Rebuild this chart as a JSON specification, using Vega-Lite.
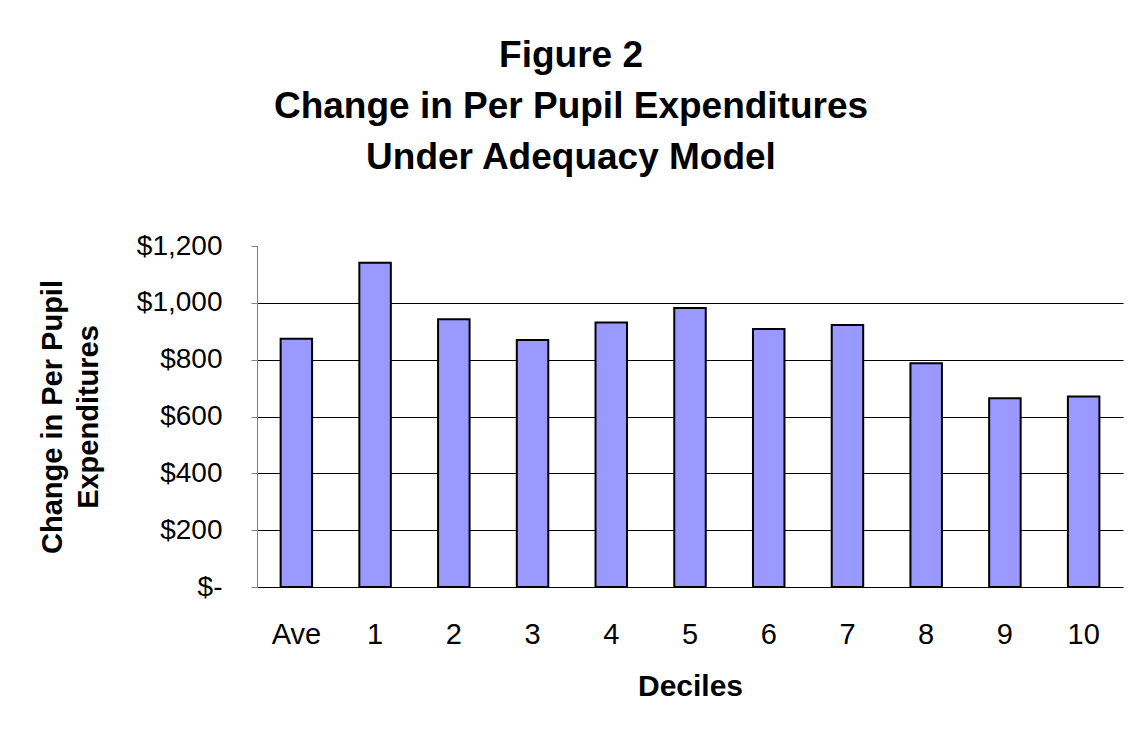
{
  "$schema": "https://vega.github.io/schema/vega-lite/v6.json",
  "width": 866,
  "height": 341,
  "autosize": {"type": "none"},
  "padding": {"left": 257, "top": 246, "right": 18, "bottom": 144},
  "background": "white",
  "title": {
    "text": ["Figure 2", "Change in Per Pupil Expenditures", "Under Adequacy Model"],
    "anchor": "middle",
    "frame": "group",
    "dx": -119,
    "font": "Liberation Sans",
    "fontSize": 37,
    "fontWeight": "bold",
    "lineHeight": 51,
    "color": "black",
    "offset": 55
  },
  "data": {
    "values": [
      {"decile": "Ave", "change": 874},
      {"decile": "1", "change": 1141},
      {"decile": "2", "change": 942},
      {"decile": "3", "change": 869},
      {"decile": "4", "change": 931},
      {"decile": "5", "change": 982},
      {"decile": "6", "change": 908},
      {"decile": "7", "change": 922},
      {"decile": "8", "change": 787},
      {"decile": "9", "change": 664},
      {"decile": "10", "change": 670}
    ]
  },
  "mark": {"type": "bar", "fill": "#9999FF", "stroke": "black", "strokeWidth": 2},
  "encoding": {
    "x": {
      "field": "decile",
      "type": "nominal",
      "sort": null,
      "scale": {"paddingInner": 0.6, "paddingOuter": 0.3},
      "axis": {
        "title": "Deciles",
        "labelAngle": 0,
        "ticks": false,
        "domainColor": "black",
        "domainWidth": 1,
        "labelFont": "Liberation Sans",
        "labelFontSize": 29,
        "labelColor": "black",
        "labelPadding": 33,
        "titleFont": "Liberation Sans",
        "titleFontSize": 30,
        "titleFontWeight": "bold",
        "titleColor": "black",
        "titlePadding": 22
      }
    },
    "y": {
      "field": "change",
      "type": "quantitative",
      "scale": {"domain": [0, 1200], "nice": false},
      "axis": {
        "values": [0, 200, 400, 600, 800, 1000, 1200],
        "labelExpr": "datum.value === 0 ? '$-\u00a0\u00a0\u00a0\u00a0' : format(datum.value, '$,')",
        "title": ["Change in Per Pupil", "Expenditures"],
        "grid": true,
        "gridColor": "black",
        "gridWidth": 1,
        "gridOpacity": {"condition": {"test": "datum.value >= 1200 || datum.value <= 0", "value": 0}, "value": 1},
        "domainColor": "#808080",
        "domainWidth": 1,
        "tickColor": "#808080",
        "tickSize": 6,
        "labelFont": "Liberation Sans",
        "labelFontSize": 28,
        "labelColor": "black",
        "labelPadding": 29,
        "titleFont": "Liberation Sans",
        "titleFontSize": 29,
        "titleFontWeight": "bold",
        "titleColor": "black",
        "titleLineHeight": 36,
        "titlePadding": 33
      }
    }
  },
  "config": {
    "view": {"stroke": null}
  }
}
